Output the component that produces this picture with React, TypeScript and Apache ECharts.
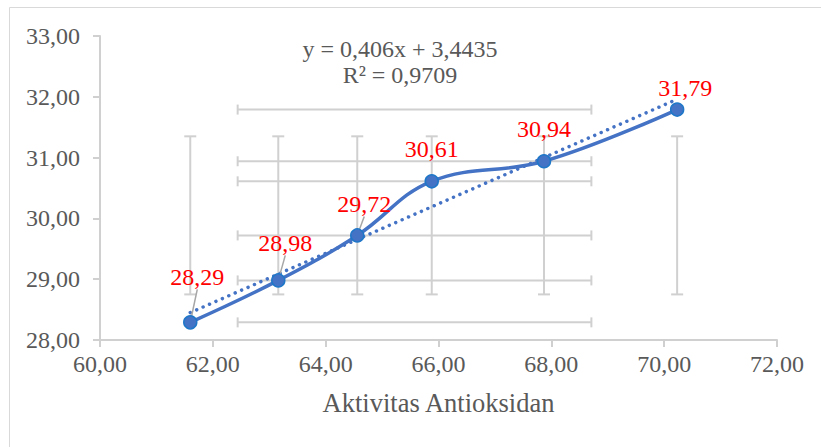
import React, { useEffect, useRef } from "react";
import * as echarts from "echarts";

// ---- data ----
const xValues = [61.6, 63.16, 64.56, 65.88, 67.87, 70.23];
const yValues = [28.29, 28.98, 29.72, 30.61, 30.94, 31.79];
// error bars (mean ± standard deviation, as drawn)
const xErrorRange = [62.44, 68.71];
const yErrorRange = [28.75, 31.35];
// linear trendline end points
const trendX = [61.6, 70.23];
const trendY = [28.45, 31.96];
const equationLines = ["y = 0,406x + 3,4435", "R² = 0,9709"];
const xAxisTitle = "Aktivitas Antioksidan";
const xMin = 60, xMax = 72, xStep = 2;
const yMin = 28, yMax = 33, yStep = 1;

// label placement (styling only): offset from point centre, leader line on/off
const labelOffsets = [
  [7, -45, true],
  [7, -37, true],
  [7, -31, true],
  [0, -32, false],
  [0, -32, false],
  [8, -22, false],
] as const;

const FONT = "'Times New Roman', 'Liberation Serif', serif";
const fmt = (v: number) => v.toFixed(2).replace(".", ",");

export default function App() {
  const ref = useRef<HTMLDivElement>(null);
  useEffect(() => {
    if (!ref.current) return;
    const chart = echarts.init(ref.current, undefined, { renderer: "svg" });
    const pts = xValues.map((x, i) => [x, yValues[i]]);
    const errData = xValues.map((x, i) => [
      x, yValues[i], xErrorRange[0], xErrorRange[1], yErrorRange[0], yErrorRange[1],
    ]);
    const gray = "#D0D0D0";
    chart.setOption({
      animation: false,
      backgroundColor: "#fff",
      textStyle: { fontFamily: FONT },
      grid: { left: 100, right: 44, top: 36, bottom: 107 },
      graphic: [
        {
          type: "rect",
          shape: { x: 9.5, y: 7.5, width: 840, height: 460 },
          style: { fill: "none", stroke: "#D9D9D9", lineWidth: 1 },
          silent: true,
        },
        ...equationLines.map((t, i) => ({
          type: "text",
          x: 400,
          y: 49 + i * 26,
          style: {
            text: t,
            fontSize: 24,
            fontFamily: FONT,
            fill: "#595959",
            align: "center",
            verticalAlign: "middle",
          },
          z: 100,
        })),
      ],
      xAxis: {
        type: "value",
        min: xMin,
        max: xMax,
        interval: xStep,
        name: xAxisTitle,
        nameLocation: "middle",
        nameGap: 49,
        nameTextStyle: { fontSize: 26.5, color: "#595959", fontFamily: FONT },
        axisLine: { lineStyle: { color: gray, width: 2 } },
        axisTick: { show: true, length: 7, lineStyle: { color: gray, width: 2 } },
        splitLine: { show: false },
        axisLabel: { formatter: fmt, fontSize: 24, color: "#595959", margin: 12, fontFamily: FONT },
      },
      yAxis: {
        type: "value",
        min: yMin,
        max: yMax,
        interval: yStep,
        axisLine: { show: true, lineStyle: { color: gray, width: 2 } },
        axisTick: { show: true, length: 7, lineStyle: { color: gray, width: 2 } },
        splitLine: { show: false },
        axisLabel: { formatter: fmt, fontSize: 24, color: "#595959", margin: 20, fontFamily: FONT },
      },
      series: [
        {
          type: "custom",
          name: "errors",
          data: errData,
          encode: { x: 0, y: 1 },
          clip: false,
          z: 1,
          silent: true,
          renderItem: (params: any, api: any) => {
            const x = api.value(0), y = api.value(1);
            const a = api.coord([api.value(2), y]);
            const b = api.coord([api.value(3), y]);
            const c = api.coord([x, api.value(4)]);
            const d = api.coord([x, api.value(5)]);
            const style = { stroke: gray, lineWidth: 2 };
            const cw = 6, ch = 5;
            const ln = (x1: number, y1: number, x2: number, y2: number) => ({
              type: "line",
              shape: { x1, y1, x2, y2 },
              style,
            });
            return {
              type: "group",
              children: [
                ln(a[0], a[1], b[0], b[1]),
                ln(a[0], a[1] - ch, a[0], a[1] + ch),
                ln(b[0], b[1] - ch, b[0], b[1] + ch),
                ln(c[0], c[1], d[0], d[1]),
                ln(c[0] - cw, c[1], c[0] + cw, c[1]),
                ln(d[0] - cw, d[1], d[0] + cw, d[1]),
              ],
            };
          },
        },
        {
          type: "line",
          name: "trend",
          data: trendX.map((x, i) => [x, trendY[i]]),
          symbol: "none",
          z: 3,
          lineStyle: { color: "#4472C4", width: 3.5, type: [0.01, 7], cap: "round" },
          silent: true,
        },
        {
          type: "line",
          name: "data",
          data: pts.map((p, i) => ({
            value: p,
            labelLine: { show: labelOffsets[i][2] },
          })),
          smooth: 0.4,
          symbol: "circle",
          symbolSize: 13,
          z: 4,
          lineStyle: { color: "#4472C4", width: 3.5 },
          itemStyle: { color: "#4472C4", borderColor: "#1F77C8", borderWidth: 1.5 },
          label: {
            show: true,
            position: "inside",
            formatter: (p: any) => fmt(p.value[1]),
            color: "#FF0000",
            fontSize: 24,
            fontFamily: FONT,
          },
          labelLine: { show: true, lineStyle: { color: "#A6A6A6", width: 1.5 } },
          labelLayout: (p: any) => {
            const o = labelOffsets[p.dataIndex];
            const r = p.rect;
            return {
              x: r.x + r.width / 2 + o[0],
              y: r.y + r.height / 2 + o[1],
              align: "center",
              verticalAlign: "middle",
            };
          },
        },
      ],
    });
    return () => chart.dispose();
  }, []);
  return (
    <div
      ref={ref}
      style={{ position: "fixed", left: 0, top: 0, width: 821, height: 447 }}
    />
  );
}
